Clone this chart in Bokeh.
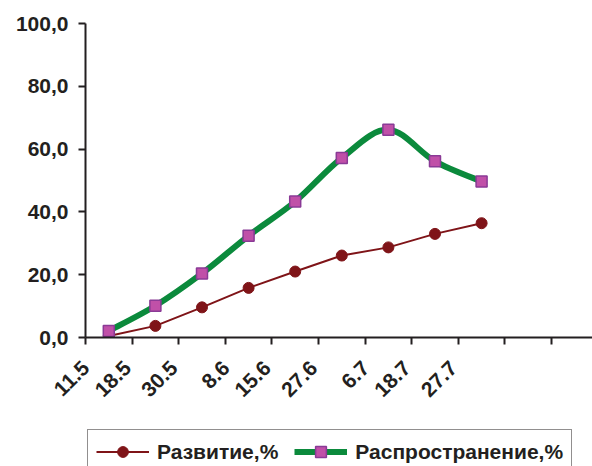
import numpy as np
from bokeh.plotting import figure
from bokeh.layouts import column
from bokeh.models import (Range1d, FixedTicker, CustomJSTickFormatter,
                          Legend, LegendItem)
from bokeh.embed import file_html
from bokeh.resources import INLINE

# survey dates (category labels) and the two series, in percent
dates = ["11.5", "18.5", "30.5", "8.6", "15.6", "27.6", "6.7", "18.7", "27.7"]
razvitie = [0.5, 3.7, 9.6, 15.8, 21.0, 26.1, 28.7, 33.0, 36.4]
rasprostranenie = [2.1, 10.1, 20.4, 32.4, 43.3, 57.2, 66.2, 56.1, 49.7]
y_ticks = [0, 20, 40, 60, 80, 100]
n_slots = 11          # category slots on the axis; the trailing ones stay empty

INK = "#231f20"
RED = "#7f1418"
GREEN = "#0b8a3c"
SQ_FILL = "#c050a8"
SQ_LINE = "#8a3a96"
FONT = "Liberation Sans"
FONT_SIZE = "21px"
X_END = 10.88         # the last slot runs past the right edge

xs = [i + 0.5 for i in range(len(dates))]   # category centres
# rotated date labels end just left of their category centre, so longer
# labels are placed a little further to the left (kept inside the axis range)
label_pos = [max(c - (0.14 + 0.115 * len(d)), 0.005) for c, d in zip(xs, dates)]


def smooth_segments(x, y):
    """Cubic Bezier segments of a smoothed line through the points (Catmull-Rom style)."""
    pts = np.column_stack([x, y]).astype(float)
    n = len(pts)
    seg = {k: [] for k in ("x0", "y0", "x1", "y1", "cx0", "cy0", "cx1", "cy1")}
    for i in range(n - 1):
        p0, p1 = pts[i], pts[i + 1]
        prev = pts[i - 1] if i > 0 else p0
        nxt = pts[i + 2] if i + 2 < n else p1
        c0 = p0 + (p1 - prev) / 6.0
        c1 = p1 - (nxt - p0) / 6.0
        seg["x0"].append(p0[0]); seg["y0"].append(p0[1])
        seg["x1"].append(p1[0]); seg["y1"].append(p1[1])
        seg["cx0"].append(c0[0]); seg["cy0"].append(c0[1])
        seg["cx1"].append(c1[0]); seg["cy1"].append(c1[1])
    return seg


p = figure(width=592, height=427,
           x_range=Range1d(0, X_END), y_range=Range1d(0, 100),
           output_backend="svg", toolbar_location=None,
           min_border_left=80, min_border_right=0,
           min_border_top=23, min_border_bottom=90)
p.xgrid.visible = False
p.ygrid.visible = False
p.outline_line_color = None
p.background_fill_color = "white"
p.border_fill_color = "white"

# y axis
ya = p.yaxis[0]
ya.ticker = FixedTicker(ticks=y_ticks, minor_ticks=[])
ya.formatter = CustomJSTickFormatter(code="return tick.toFixed(1).replace('.', ',')")
ya.axis_line_color = INK
ya.axis_line_width = 2
ya.major_tick_line_color = INK
ya.major_tick_line_width = 2
ya.major_tick_in = 0
ya.major_tick_out = 7
ya.major_label_standoff = 10
ya.major_label_text_font = FONT
ya.major_label_text_font_style = "bold"
ya.major_label_text_font_size = FONT_SIZE
ya.major_label_text_color = INK

# x axis: ticks between categories, rotated date labels
xa = p.xaxis[0]
xa.ticker = FixedTicker(ticks=label_pos, minor_ticks=list(range(n_slots + 1)))
xa.formatter = CustomJSTickFormatter(
    args=dict(labels=dates, pos=label_pos),
    code="const i = pos.findIndex(v => Math.abs(v - tick) < 1e-6); return i >= 0 ? labels[i] : '';")
xa.axis_line_color = INK
xa.axis_line_width = 2
xa.major_tick_line_color = None
xa.minor_tick_line_color = INK
xa.minor_tick_line_width = 2
xa.minor_tick_in = 0
xa.minor_tick_out = 7
xa.major_label_orientation = np.pi / 4
xa.major_label_standoff = 20
xa.major_label_text_font = FONT
xa.major_label_text_font_style = "bold"
xa.major_label_text_font_size = FONT_SIZE
xa.major_label_text_color = INK

# Развитие: thin straight line with round markers
p.line(xs, razvitie, line_color=RED, line_width=2)
p.scatter(xs, razvitie, marker="circle", size=11, fill_color=RED, line_color=RED)

# Распространение: thick smoothed line with square markers
seg = smooth_segments(xs, rasprostranenie)
p.bezier(x0=seg["x0"], y0=seg["y0"], x1=seg["x1"], y1=seg["y1"],
         cx0=seg["cx0"], cy0=seg["cy0"], cx1=seg["cx1"], cy1=seg["cy1"],
         line_color=GREEN, line_width=6)
p.scatter(xs, rasprostranenie, marker="square", size=11,
          fill_color=SQ_FILL, line_color=SQ_LINE, line_width=1.5)

# legend strip under the chart; its key renderers are hidden and only feed the legend
lg = figure(width=592, height=39, x_range=Range1d(0, 1), y_range=Range1d(0, 1),
            output_backend="svg", toolbar_location=None,
            min_border_left=85, min_border_right=0,
            min_border_top=0, min_border_bottom=0)
lg.axis.visible = False
lg.xgrid.visible = False
lg.ygrid.visible = False
lg.outline_line_color = None
lg.border_fill_color = "white"

k_rl = lg.line(xs, razvitie, line_color=RED, line_width=2, visible=False)
k_rp = lg.scatter(xs, razvitie, marker="circle", size=11,
                  fill_color=RED, line_color=RED, visible=False)
k_gl = lg.line(xs, rasprostranenie, line_color=GREEN, line_width=6, visible=False)
k_gp = lg.scatter(xs, rasprostranenie, marker="square", size=11,
                  fill_color=SQ_FILL, line_color=SQ_LINE, line_width=1.5, visible=False)

legend = Legend(items=[LegendItem(label="Развитие,%", renderers=[k_rl, k_rp]),
                       LegendItem(label="Распространение,%", renderers=[k_gl, k_gp])],
                orientation="horizontal", location="top_left",
                glyph_width=53, glyph_height=27, label_standoff=8,
                spacing=16, padding=8, margin=2,
                border_line_color=INK, border_line_width=1.5,
                background_fill_color="white", background_fill_alpha=1,
                inactive_fill_alpha=0,
                label_text_font=FONT, label_text_font_style="bold",
                label_text_font_size=FONT_SIZE, label_text_color=INK)
lg.add_layout(legend)

layout = column(p, lg, spacing=0)
open("out.html", "w").write(file_html(layout, INLINE))
